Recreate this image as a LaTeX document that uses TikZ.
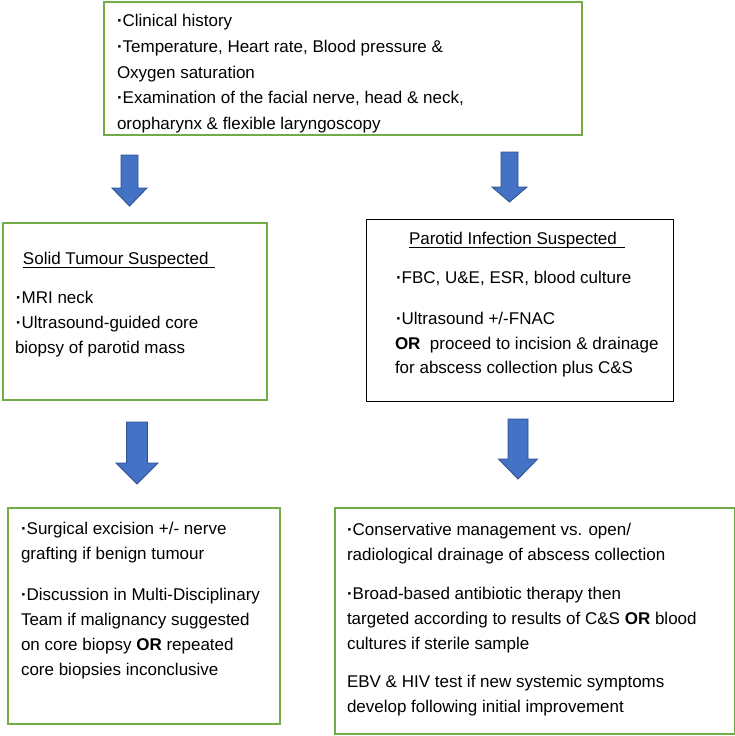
\documentclass[tikz,border=0pt]{standalone}
\usepackage{fontspec}
\setmainfont{Liberation Sans}
\definecolor{boxgreen}{HTML}{70AD47}
\definecolor{arrowfill}{HTML}{4472C4}
\definecolor{arrowline}{HTML}{2F528F}
\newcommand{\bluearrow}[7]{% name, cx, top, headstart, tip, shafthalf, headhalf
  \coordinate (#1) at (#2,#3);
  \draw[blockarrow] (#2-#6,#3) -- (#2+#6,#3) -- (#2+#6,#4) -- (#2+#7,#4) -- (#2,#5)
     -- (#2-#7,#4) -- (#2-#6,#4) -- cycle;}
\newcommand{\bdot}{\textbf{·}}
\begin{document}
\begin{tikzpicture}[x=1pt,y=-1pt,
  greenbox/.style={draw=boxgreen, line width=2pt, rectangle, inner sep=0pt, anchor=north west},
  blackbox/.style={draw=black, line width=1.1pt, rectangle, inner sep=0pt, anchor=north west},
  blockarrow/.style={fill=arrowfill, draw=arrowline, line width=0.9pt, line join=miter},
  txt/.style={anchor=base west, inner sep=0pt, outer sep=0pt, font=\fontsize{17}{20}\selectfont},
  uline/.style={line width=0.9pt}]
\useasboundingbox (0,0) rectangle (735,736);
\fill[white] (0,0) rectangle (735,736);

% boxes
\node[greenbox, minimum width=478pt, minimum height=133pt] (top) at (103,1) {};
\node[greenbox, minimum width=264pt, minimum height=177pt] (solid) at (2,222) {};
\node[blackbox, minimum width=307pt, minimum height=182pt] (infect) at (366,219) {};
\node[greenbox, minimum width=272pt, minimum height=216pt] (surg) at (7,507) {};
\node[greenbox, minimum width=400pt, minimum height=226pt] (cons) at (334,507) {};

% block arrows
\bluearrow{a1}{129.5}{155}{188}{206}{8.5}{17.5}
\bluearrow{a2}{509.5}{152}{187}{202}{8.5}{17.5}
\bluearrow{a3}{137}{422}{463}{484}{10.5}{21}
\bluearrow{a4}{518}{419}{459}{479}{10}{19.5}

% top box text
\node[txt] (t1) at (117,27) {\bdot Clinical history};
\node[txt] (t2) at (117,52.5) {\bdot Temperature, Heart rate, Blood pressure \&};
\node[txt] (t3) at (117,78) {Oxygen saturation};
\node[txt] (t4) at (117,103.5) {\bdot Examination of the facial nerve, head \& neck,};
\node[txt] (t5) at (117,129) {oropharynx \& flexible laryngoscopy};

% solid tumour box
\node[txt] (s0) at (23,264) {Solid Tumour Suspected};
\draw[uline] ([yshift=-3pt]s0.base west) -- ([yshift=-3pt,xshift=6pt]s0.base east);
\node[txt] (s1) at (16,303) {\bdot MRI neck};
\node[txt] (s2) at (16,328) {\bdot Ultrasound-guided core};
\node[txt] (s3) at (15,353) {biopsy of parotid mass};

% parotid infection box
\node[txt] (p0) at (409,244) {Parotid Infection Suspected};
\draw[uline] ([yshift=-3pt]p0.base west) -- ([yshift=-3pt,xshift=8pt]p0.base east);
\node[txt] (p1) at (396,283) {\bdot FBC, U\&E, ESR, blood culture};
\node[txt] (p2) at (396,324) {\bdot Ultrasound +/-FNAC};
\node[txt] (p3) at (395,349) {\textbf{OR}\ \ proceed to incision \& drainage};
\node[txt] (p4) at (395,373) {for abscess collection plus C\&S};

% surgical box
\node[txt] (u1) at (21,534) {\bdot Surgical excision +/- nerve};
\node[txt] (u2) at (21,559) {grafting if benign tumour};
\node[txt] (u3) at (21,600) {\bdot Discussion in Multi-Disciplinary};
\node[txt] (u4) at (21,625) {Team if malignancy suggested};
\node[txt] (u5) at (21,650) {on core biopsy \textbf{OR} repeated};
\node[txt] (u6) at (21,675) {core biopsies inconclusive};

% conservative box
\node[txt] (c1) at (347,535) {\bdot Conservative management vs. open/};
\node[txt] (c2) at (347,560) {radiological drainage of abscess collection};
\node[txt] (c3) at (347,599) {\bdot Broad-based antibiotic therapy then};
\node[txt] (c4) at (347,624) {targeted according to results of C\&S \textbf{OR} blood};
\node[txt] (c5) at (347,649) {cultures if sterile sample};
\node[txt] (c6) at (347,687) {EBV \& HIV test if new systemic symptoms};
\node[txt] (c7) at (347,712) {develop following initial improvement};
\end{tikzpicture}
\end{document}
